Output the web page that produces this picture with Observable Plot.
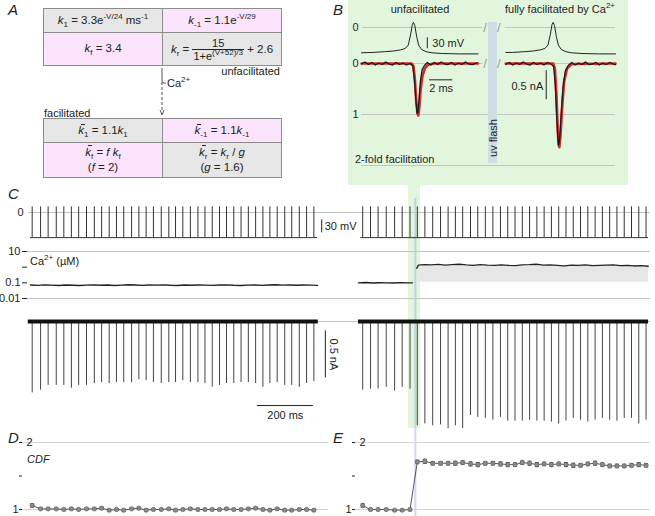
<!DOCTYPE html>
<html><head><meta charset="utf-8">
<script src="https://cdn.jsdelivr.net/npm/d3@7"></script>
<script src="https://cdn.jsdelivr.net/npm/@observablehq/plot@0.6"></script>
<style>
body{margin:0;background:#fff;}
#fig{position:relative;width:655px;height:516px;overflow:hidden;font-family:"Liberation Sans",Arial,Helvetica,sans-serif;font-size:11px;color:#222;background:#fff;}
.abs{position:absolute;line-height:1;white-space:nowrap;}
.let{position:absolute;line-height:1;font-style:italic;font-size:15px;}
table.k{position:absolute;border-collapse:collapse;table-layout:fixed;}
table.k td{border:1px solid #8c8c8c;text-align:center;font-size:11.5px;padding:0;line-height:1.15;}
table.k td.two{line-height:15px;}
.g{background:#e6e6e6}.p{background:#fbe3fb}
sub,sup{font-size:8px;line-height:0}
.frac{display:inline-block;vertical-align:middle;text-align:center;font-size:11px;}
.frac>span{display:block;line-height:12px;padding:0 1px}
.frac .den{border-top:1px solid #222}
.kb{position:relative;display:inline-block}
.kb::before{content:"";position:absolute;left:2.5px;top:0px;width:4px;border-top:1px solid #222}
</style></head>
<body>
<div id="fig">
  <!-- backgrounds -->
  <div class="abs" style="left:348px;top:0;width:280px;height:185px;background:#e2f6de"></div>
  <div class="abs" style="left:408px;top:184px;width:12px;height:244px;background:#e2f6de"></div>

  <!-- panel A -->
  <div class="let" style="left:8px;top:2px">A</div>
  <table class="k" style="left:43px;top:8px;width:238px">
    <colgroup><col style="width:119px"><col style="width:119px"></colgroup>
    <tr style="height:24px"><td class="g"><i>k</i><sub>1</sub> = 3.3e<sup>-V/24</sup> ms<sup>-1</sup></td><td class="p"><i>k</i><sub>-1</sub> = 1.1e<sup>-V/29</sup></td></tr>
    <tr style="height:33px"><td class="p"><i>k</i><sub>f</sub> = 3.4</td><td class="g"><i>k</i><sub>r</sub> = <span class="frac"><span>15</span><span class="den">1+e<sup>(V+52)/3</sup></span></span> + 2.6</td></tr>
  </table>
  <div class="abs" style="right:375px;top:66px">unfacilitated</div>
  <svg class="abs" style="left:150px;top:68px" width="30" height="50">
    <path d="M12 0 V12 Q12 16 16 15" fill="none" stroke="#555" stroke-width="1"/>
    <line x1="12" y1="14" x2="12" y2="44" stroke="#555" stroke-width="1" stroke-dasharray="3,2"/>
    <path d="M10 42 L12 47 L14 42" fill="none" stroke="#555" stroke-width="1"/>
  </svg>
  <div class="abs" style="left:167px;top:78px">Ca<sup>2+</sup></div>
  <div class="abs" style="left:44px;top:108px">facilitated</div>
  <table class="k" style="left:43px;top:118px;width:238px">
    <colgroup><col style="width:119px"><col style="width:119px"></colgroup>
    <tr style="height:24px"><td class="g"><i class="kb">k</i><sub>1</sub> = 1.1<i>k</i><sub>1</sub></td><td class="p"><i class="kb">k</i><sub>-1</sub> = 1.1<i>k</i><sub>-1</sub></td></tr>
    <tr style="height:35px"><td class="p two"><i class="kb">k</i><sub>f</sub> = <i>f k</i><sub>f</sub><br>(<i>f</i> = 2)</td><td class="g two"><i class="kb">k</i><sub>r</sub> = <i>k</i><sub>r</sub> / <i>g</i><br>(<i>g</i> = 1.6)</td></tr>
  </table>

  <!-- panel B labels -->
  <div class="let" style="left:333px;top:2px">B</div>
  <div class="abs" style="left:420px;top:4px;transform:translateX(-50%)">unfacilitated</div>
  <div class="abs" style="left:505px;top:4px">fully facilitated by Ca<sup>2+</sup></div>
  <div class="abs" style="left:355px;top:154px">2-fold facilitation</div>

  <!-- panel C/D/E labels -->
  <div class="let" style="left:8px;top:186px">C</div>
  <div class="abs" style="left:30px;top:256px">Ca<sup>2+</sup> (&micro;M)</div>
  <div class="let" style="left:8px;top:430px">D</div>
  <div class="let" style="left:333px;top:430px">E</div>
  <div class="abs" style="left:27px;top:454px;font-style:italic">CDF</div>
</div>
<script>
// ---------------- DATA ----------------
// Panel B: single spike, unfacilitated (left) and facilitated (right); time in ms
const vBL_t = [0, 1, 2, 2.8, 3.4, 3.8, 4.05, 4.25, 4.4, 4.5, 4.62, 4.78, 4.95, 5.2, 5.6, 6.1, 7, 8.5, 10.1];
const vBL_v = [-69, -68, -66, -64, -61, -57, -48, -20, 8, 14, 5, -25, -48, -60, -66, -69, -71, -72, -72];
const vBR_t = [12.5, 13.1, 14.1, 14.9, 15.5, 15.9, 16.15, 16.35, 16.5, 16.6, 16.72, 16.88, 17.05, 17.3, 17.7, 18.2, 19.1, 20.6, 22];
const vBR_v = [-68, -68, -66, -64, -61, -57, -48, -20, 8, 14, 5, -25, -48, -60, -66, -69, -71, -72, -72];
// normalized Ca current (downward = positive)
const iBL_t = [0, 0.3, 0.6, 0.9, 1.2, 1.5, 1.8, 2.1, 2.4, 2.7, 3.0, 3.3, 3.6, 3.9, 4.2, 4.45, 4.6, 4.72, 4.82, 4.9, 4.98, 5.1, 5.25, 5.45, 5.7, 6.0, 6.3, 6.6, 6.9, 7.2, 7.5, 7.8, 8.1, 8.4, 8.7, 9.0, 9.3, 9.6, 10.0];
const iBL_v = [0.01, -0.03, 0.02, -0.02, 0.03, -0.01, 0.02, -0.03, 0.01, 0.03, -0.02, 0.02, -0.01, 0.03, 0.0, 0.05, 0.35, 0.75, 0.98, 0.95, 0.7, 0.35, 0.12, 0.04, -0.02, 0.03, -0.02, 0.02, -0.03, 0.01, 0.02, -0.02, 0.03, -0.01, 0.02, -0.03, 0.01, 0.02, -0.01];
const iBR_t = [12.5, 12.8, 13.1, 13.4, 13.7, 14.0, 14.3, 14.6, 14.9, 15.2, 15.5, 15.8, 16.1, 16.4, 16.65, 16.78, 16.9, 17.0, 17.08, 17.16, 17.28, 17.44, 17.65, 17.9, 18.2, 18.5, 18.8, 19.1, 19.4, 19.7, 20.0, 20.3, 20.6, 20.9, 21.2, 21.5, 21.8, 22.0];
const iBR_v = [0.02, -0.02, 0.03, -0.01, 0.02, -0.03, 0.01, 0.03, -0.02, 0.02, -0.01, 0.03, -0.02, 0.01, 0.06, 0.4, 1.0, 1.45, 1.6, 1.5, 1.05, 0.5, 0.15, 0.04, -0.02, 0.03, -0.01, 0.02, -0.03, 0.02, 0.01, -0.02, 0.03, -0.01, 0.02, -0.02, 0.01, 0.02];
const fitL_t = [0, 4.35, 4.5, 4.62, 4.74, 4.84, 4.92, 5.0, 5.12, 5.28, 5.5, 5.8, 6.3, 10.1];
const fitL_v = [0, 0, 0.05, 0.3, 0.72, 0.97, 1.02, 0.88, 0.52, 0.24, 0.09, 0.02, 0, 0];
const fitR_t = [12.5, 16.6, 16.75, 16.88, 16.98, 17.06, 17.14, 17.24, 17.38, 17.55, 17.8, 18.2, 22];
const fitR_v = [0, 0, 0.1, 0.6, 1.2, 1.58, 1.64, 1.4, 0.85, 0.35, 0.1, 0.01, 0];
const bSegs = [{t0: 0.1, t1: 10.5}, {t0: 12.45, t1: 22}];
const bBreaks = [10.7, 11.9];
const bVbar = {t: 5.7, v0: -58, v1: -28};
const bTbar = {t0: 5.9, t1: 7.9, v: 0.32};
const bIbar = {t: 16.0, v0: 0.14, v1: 0.71};

// Panel C: spike times (ms) in each sweep, current peaks (nA)
const spikeTL = [6, 36, 63, 92, 119, 146, 172, 200, 228, 254, 281, 307, 333, 361, 387, 413, 439, 467, 494, 518, 544, 571, 598, 623, 649, 675, 700, 726, 752, 778, 804, 830, 855, 881, 908, 933, 960, 986, 1012];
const spikeTR = [15, 43, 70, 99, 129, 156, 184, 210, 237, 265, 293, 320, 346, 372, 400, 426, 453, 480, 507, 533, 559, 585, 611, 637, 663, 689, 715, 741, 767, 793, 819, 845, 871, 897, 923, 949, 975, 1001, 1027];
const flashT = 203;
const vBase = -58, vPeak = 13;
const sweepL = [0, 1025], sweepR = [8, 1036];
const peaksL = [-0.76, -0.73, -0.68, -0.68, -0.68, -0.71, -0.68, -0.68, -0.66, -0.65, -0.66, -0.65, -0.65, -0.65, -0.62, -0.63, -0.65, -0.66, -0.65, -0.65, -0.63, -0.65, -0.65, -0.66, -0.70, -0.68, -0.66, -0.66, -0.65, -0.65, -0.66, -0.70, -0.66, -0.65, -0.68, -0.68, -0.70, -0.66, -0.64];
const peaksR = [-0.73, -0.72, -0.72, -0.70, -0.74, -0.70, -0.72, -1.11, -1.09, -1.11, -1.10, -1.14, -1.11, -1.14, -1.00, -1.02, -1.03, -1.05, -1.02, -1.06, -1.06, -1.06, -1.05, -1.06, -1.06, -1.07, -1.09, -1.06, -1.03, -1.05, -1.07, -1.05, -1.03, -1.05, -1.06, -1.03, -1.03, -1.09, -1.05];
// Ca2+ (uM)
const caLT = [0, 25, 50, 75, 100, 125, 150, 175, 200, 225, 250, 275, 300, 325, 350, 375, 400, 425, 450, 475, 500, 525, 550, 575, 600, 625, 650, 675, 700, 725, 750, 775, 800, 825, 850, 875, 900, 925, 950, 975, 1000, 1025];
const caLV = [0.072, 0.069, 0.074, 0.071, 0.068, 0.073, 0.070, 0.067, 0.071, 0.074, 0.070, 0.072, 0.068, 0.071, 0.075, 0.072, 0.069, 0.073, 0.071, 0.074, 0.070, 0.068, 0.072, 0.070, 0.073, 0.071, 0.069, 0.072, 0.074, 0.070, 0.068, 0.071, 0.073, 0.069, 0.072, 0.075, 0.071, 0.073, 0.070, 0.072, 0.071, 0.069];
const caRpreT = [0, 25, 50, 75, 100, 125, 150, 175, 193];
const caRpreV = [0.10, 0.105, 0.098, 0.102, 0.1, 0.097, 0.103, 0.1, 0.1];
const caRpostT = [208, 214, 235, 260, 285, 310, 335, 360, 385, 410, 435, 460, 485, 510, 535, 560, 585, 610, 635, 660, 685, 710, 735, 760, 785, 810, 835, 860, 885, 910, 935, 960, 985, 1010, 1035];
const caRpostV = [0.85, 1.35, 1.45, 1.4, 1.5, 1.35, 1.45, 1.55, 1.4, 1.3, 1.45, 1.35, 1.3, 1.4, 1.3, 1.25, 1.4, 1.45, 1.55, 1.35, 1.4, 1.3, 1.2, 1.35, 1.3, 1.4, 1.25, 1.3, 1.35, 1.4, 1.25, 1.3, 1.2, 1.25, 1.15];
const caBand = [{t0: 212, t1: 1036, lo: 0.11, hi: 1.1}];
const caTicks = [0.01, 0.1, 1, 10];
// scale bars in C
const cVbar = {t: 1040, v0: -47, v1: -17};
const cIbar = {t: 1053, v0: -0.1, v1: -0.6};
const cTbar = {t0: 810, t1: 1010, v: -0.894};

// Panels D / E: CDF per spike (mean, error)
const dV = [1.06, 1.01, 1.01, 1.01, 1.0, 1.01, 1.0, 1.01, 1.01, 1.02, 0.99, 1.0, 0.99, 1.01, 1.02, 0.99, 1.0, 1.0, 1.01, 0.99, 1.0, 1.01, 1.0, 1.0, 1.0, 1.0, 1.01, 1.0, 1.0, 1.01, 1.02, 1.0, 0.99, 1.01, 0.99, 0.99, 1.0, 1.0, 0.99];
const dE = [0.025, 0.012, 0.012, 0.012, 0.012, 0.012, 0.012, 0.012, 0.012, 0.015, 0.012, 0.012, 0.015, 0.012, 0.012, 0.015, 0.012, 0.012, 0.012, 0.015, 0.012, 0.012, 0.012, 0.012, 0.012, 0.012, 0.012, 0.012, 0.012, 0.012, 0.012, 0.012, 0.015, 0.012, 0.015, 0.012, 0.012, 0.012, 0.012];
const eV = [1.06, 1.0, 1.0, 1.0, 0.99, 0.99, 1.0, 1.71, 1.72, 1.69, 1.69, 1.69, 1.69, 1.70, 1.68, 1.67, 1.69, 1.69, 1.68, 1.67, 1.67, 1.70, 1.69, 1.67, 1.68, 1.67, 1.68, 1.67, 1.66, 1.66, 1.68, 1.69, 1.67, 1.65, 1.65, 1.65, 1.66, 1.67, 1.66];
const eE = [0.025, 0.01, 0.01, 0.01, 0.01, 0.01, 0.01, 0.025, 0.03, 0.025, 0.025, 0.025, 0.03, 0.025, 0.03, 0.03, 0.025, 0.025, 0.03, 0.03, 0.025, 0.025, 0.03, 0.03, 0.025, 0.03, 0.025, 0.03, 0.03, 0.025, 0.025, 0.03, 0.025, 0.025, 0.025, 0.025, 0.025, 0.03, 0.025];
const cdfTicks = [1, 1.5, 2];

// ---------------- DRAWING ----------------
const W = 655, H = 516;
const FONT = '"Liberation Sans", Arial, Helvetica, sans-serif';
const GRID = "#c4c4c4", INK = "#222", RED = "#d42a2a";
const fig = document.getElementById("fig");
function overlay(o) {
  const svg = Plot.plot(Object.assign({
    width: W, height: H, marginTop: 0, marginBottom: 0, marginLeft: 0, marginRight: 0,
    style: {background: "transparent", fontFamily: FONT, fontSize: "11px", color: "#222", overflow: "visible"}
  }, o));
  svg.style.position = "absolute"; svg.style.left = "0px"; svg.style.top = "0px";
  fig.appendChild(svg);
  return svg;
}
const zip = (T, V) => T.map((t, i) => ({t, v: V[i]}));
const zipE = (T, V, E) => T.map((t, i) => ({t, v: V[i], e: E[i]}));
const hbar = {draw(ctx, size) { const r = Math.sqrt(size / Math.PI); ctx.moveTo(-r, 0); ctx.lineTo(r, 0); }};
const intFmt = d => String(d);

const xB = {domain: [0, 22], range: [361, 615], axis: null};
const xL = {domain: [0, 1030], range: [30, 318.4], axis: null};
const xR = {domain: [0, 1030], range: [358, 646.4], axis: null};
const yCV = {domain: [-60, 20], range: [238, 203.33], axis: null};
const yCa = {type: "log", domain: [0.01, 10], range: [298, 251], axis: null};
const yCI = {domain: [-1.2, 0.1], range: [433.8, 311.6], axis: null};
const yCDF = {domain: [1, 2], range: [509, 442], axis: null};

// flash line
overlay({marginTop: 198, x: xR, marks: [Plot.ruleX([flashT], {stroke: "#8a9be8", strokeOpacity: 0.38, strokeWidth: 2})]});

// B voltage
overlay({
  marginLeft: 361, marginRight: 40, x: xB,
  y: {domain: [-80, 20], range: [56.33, 19.67], axis: null},
  marks: [
    Plot.ruleY(bSegs, {y: () => 0, x1: "t0", x2: "t1", stroke: GRID}),
    Plot.text(bBreaks, {x: d => d, y: () => 0, text: () => "/", fill: "#999", fontSize: 13}),
    Plot.axisY({ticks: [0], tickSize: 0, tickPadding: 3, label: null, tickFormat: intFmt}),
    Plot.line(zip(vBL_t, vBL_v), {x: "t", y: "v", stroke: INK, strokeWidth: 1}),
    Plot.line(zip(vBR_t, vBR_v), {x: "t", y: "v", stroke: INK, strokeWidth: 1}),
    Plot.ruleX([bVbar], {x: "t", y1: "v0", y2: "v1", stroke: INK}),
    Plot.text([bVbar], {x: "t", y: d => (d.v0 + d.v1) / 2, text: () => "30 mV", textAnchor: "start", dx: 5, fill: INK})
  ]
});
// B current
overlay({
  marginLeft: 361, marginRight: 40, x: xB,
  y: {domain: [0, 2], range: [63, 165], axis: null},
  marks: [
    Plot.ruleY(bSegs, {y: () => 0, x1: "t0", x2: "t1", stroke: GRID}),
    Plot.ruleY([1, 2], {stroke: GRID}),
    Plot.text(bBreaks, {x: d => d, y: () => 0, text: () => "/", fill: "#999", fontSize: 13}),
    Plot.axisY({ticks: [0, 1], tickSize: 0, tickPadding: 3, label: null, tickFormat: intFmt}),
    Plot.line(zip(fitL_t, fitL_v), {x: "t", y: "v", stroke: RED, strokeWidth: 2.6}),
    Plot.line(zip(fitR_t, fitR_v), {x: "t", y: "v", stroke: RED, strokeWidth: 2.6}),
    Plot.line(zip(iBL_t, iBL_v), {x: "t", y: "v", stroke: "#1a1a1a", strokeWidth: 1.3}),
    Plot.line(zip(iBR_t, iBR_v), {x: "t", y: "v", stroke: "#1a1a1a", strokeWidth: 1.3}),
    Plot.ruleY([bTbar], {y: "v", x1: "t0", x2: "t1", stroke: INK}),
    Plot.text([bTbar], {x: d => (d.t0 + d.t1) / 2, y: "v", text: () => "2 ms", dy: 9, fill: INK}),
    Plot.ruleX([bIbar], {x: "t", y1: "v0", y2: "v1", stroke: INK}),
    Plot.text([bIbar], {x: "t", y: d => (d.v0 + d.v1) / 2 + 0.03, text: () => "0.5 nA", textAnchor: "end", dx: -3, fill: INK})
  ]
});

// C voltage
overlay({
  marginLeft: 28, marginRight: 5, x: xL, y: yCV,
  marks: [
    Plot.ruleY([0], {stroke: GRID}),
    Plot.axisY({ticks: [0], tickSize: 0, tickPadding: 5, label: null, tickFormat: intFmt}),
    Plot.ruleY([vBase], {x1: () => sweepL[0], x2: () => sweepL[1], stroke: "#333"}),
    Plot.ruleX(spikeTL, {x: d => d, y1: () => vBase, y2: () => vPeak, stroke: "#333", strokeWidth: 1}),
    Plot.ruleX([cVbar], {x: "t", y1: "v0", y2: "v1", stroke: INK}),
    Plot.text([cVbar], {x: "t", y: d => (d.v0 + d.v1) / 2, text: () => "30 mV", textAnchor: "start", dx: 3, fill: INK})
  ]
});
overlay({
  x: xR, y: yCV,
  marks: [
    Plot.ruleY([vBase], {x1: () => sweepR[0], x2: () => sweepR[1], stroke: "#333"}),
    Plot.ruleX(spikeTR, {x: d => d, y1: () => vBase, y2: () => vPeak, stroke: "#333", strokeWidth: 1})
  ]
});

// C calcium
overlay({
  marginLeft: 27, marginRight: 5, marginTop: 251, marginBottom: H - 298, x: xL, y: yCa,
  marks: [
    Plot.ruleY([0.01, 10], {stroke: GRID}),
    Plot.axisY({ticks: caTicks, tickSize: 5, tickPadding: 2, line: true, label: null, tickFormat: d => d === 1 ? "" : String(d)}),
    Plot.line(zip(caLT, caLV), {x: "t", y: "v", stroke: INK, strokeWidth: 1.4})
  ]
});
overlay({
  marginTop: 251, marginBottom: H - 298, x: xR, y: yCa,
  marks: [
    Plot.rect(caBand, {x1: "t0", x2: "t1", y1: "lo", y2: "hi", fill: "#e6e6e6"}),
    Plot.line(zip(caRpreT, caRpreV), {x: "t", y: "v", stroke: INK, strokeWidth: 1.4}),
    Plot.line(zip(caRpostT, caRpostV), {x: "t", y: "v", stroke: INK, strokeWidth: 1.4})
  ]
});

// C current
overlay({
  marginLeft: 28, marginRight: 5, x: xL, y: yCI,
  marks: [
    Plot.ruleY([0], {stroke: GRID}),
    Plot.ruleX(spikeTL.map((t, i) => ({t, p: peaksL[i]})), {x: "t", y1: () => 0, y2: "p", stroke: "#444", strokeWidth: 1}),
    Plot.ruleY([0], {x1: () => sweepL[0] - 8, x2: () => sweepL[1] + 3, stroke: "#111", strokeWidth: 4}),
    Plot.ruleX([cIbar], {x: "t", y1: "v0", y2: "v1", stroke: INK}),
    Plot.text([cIbar], {x: "t", y: d => (d.v0 + d.v1) / 2, text: () => "0.5 nA", rotate: 90, dx: 8, fill: INK}),
    Plot.ruleY([cTbar], {y: "v", x1: "t0", x2: "t1", stroke: INK}),
    Plot.text([cTbar], {x: d => (d.t0 + d.t1) / 2, y: "v", text: () => "200 ms", dy: 10, fill: INK})
  ]
});
overlay({
  x: xR, y: yCI,
  marks: [
    Plot.ruleX(spikeTR.map((t, i) => ({t, p: peaksR[i]})), {x: "t", y1: () => 0, y2: "p", stroke: "#444", strokeWidth: 1}),
    Plot.ruleY([0], {x1: () => sweepR[0] - 8, x2: () => sweepR[1], stroke: "#111", strokeWidth: 4})
  ]
});

// D & E
function cdfPanel(x, ml, mr, data) {
  overlay({
    marginLeft: ml, marginRight: mr, marginTop: 442, marginBottom: H - 509, x, y: yCDF,
    marks: [
      Plot.ruleY([1, 2], {stroke: "#d4d4d4"}),
      Plot.axisY({ticks: cdfTicks, tickSize: 3, tickPadding: 1, line: true, label: null, tickFormat: d => d === 1 ? "1" : ""}),
      Plot.text([2], {frameAnchor: "left", y: d => d, text: d => String(d), textAnchor: "start", dx: 4}),
      Plot.line(data, {x: "t", y: "v", stroke: "#444", strokeWidth: 0.9}),
      Plot.ruleX(data, {x: "t", y1: d => d.v - d.e, y2: d => d.v + d.e, stroke: "#333", strokeWidth: 0.9}),
      Plot.dot(data, {x: "t", y: d => d.v - d.e, symbol: hbar, r: 2, stroke: "#333", strokeWidth: 0.9}),
      Plot.dot(data, {x: "t", y: d => d.v + d.e, symbol: hbar, r: 2, stroke: "#333", strokeWidth: 0.9}),
      Plot.dot(data, {x: "t", y: "v", r: 2.2, fill: "#8a8a8a", stroke: "#5a5a5a", strokeWidth: 0.6})
    ]
  });
}
cdfPanel(xL, 22, W - 328, zipE(spikeTL, dV, dE));
cdfPanel(xR, 355, 5, zipE(spikeTR, eV, eE));

// uv flash bar (on top)
const uv = document.createElement("div");
uv.className = "abs";
uv.style.cssText = "left:488px;top:22px;width:9px;height:141px;background:#cddfe5;";
fig.appendChild(uv);
const uvt = document.createElement("div");
uvt.className = "abs";
uvt.style.cssText = "left:492.5px;top:138px;transform:translate(-50%,-50%) rotate(-90deg);";
uvt.textContent = "uv flash";
fig.appendChild(uvt);
</script>
</body></html>
